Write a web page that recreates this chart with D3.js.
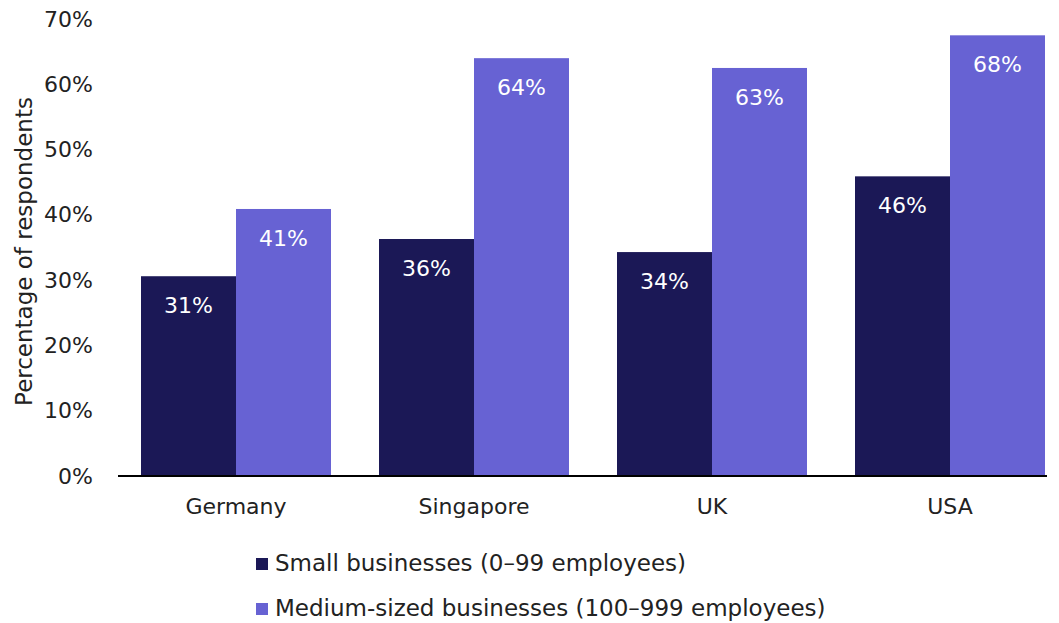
<!doctype html>
<html>
<head>
<script src="https://d3js.org/d3.v7.min.js"></script>
<style>
  body { margin: 0; background: #fff; }
  text { font-family: "DejaVu Sans", sans-serif; }
</style>
</head>
<body>
<script>
// data
var countries = ["Germany", "Singapore", "UK", "USA"];
var seriesNames = ["Small businesses (0\u201399 employees)", "Medium-sized businesses (100\u2013999 employees)"];
var small = [30.6, 36.3, 34.3, 45.9];
var medium = [40.9, 64.0, 62.5, 67.5];
var smallLabels = ["31%", "36%", "34%", "46%"];
var mediumLabels = ["41%", "64%", "63%", "68%"];
var yTicks = [0, 10, 20, 30, 40, 50, 60, 70];
var colors = ["#1b1856", "#6762d3"];

var W = 1059, H = 623;
var margin = {top: 19, right: 12, bottom: 147, left: 118},
    width = W - margin.left - margin.right,
    height = H - margin.top - margin.bottom;
var fontSize = "22px";

var svg = d3.select("body").append("svg")
    .attr("width", W)
    .attr("height", H);

var g = svg.append("g")
    .attr("transform", "translate(" + margin.left + "," + margin.top + ")");

// groups are 190px wide, 238px apart, first one starts 23px from the axis start
var x0 = d3.scaleBand().domain(countries).range([-0.8, 950.8]).paddingInner(0.2017).paddingOuter(0.1);
var x1 = d3.scaleBand().domain([0, 1]).range([0, x0.bandwidth()]);
var y = d3.scaleLinear().domain([0, 70]).range([height, 0]);

// y axis labels (no line)
var yAxis = g.append("g")
    .call(d3.axisLeft(y).tickValues(yTicks).tickSize(0).tickPadding(25).tickFormat(function(d) { return d + "%"; }));
yAxis.select(".domain").remove();
yAxis.selectAll("text").attr("font-size", fontSize).attr("fill", "#222")
    .style("font-family", "'DejaVu Sans', sans-serif");

var rows = countries.map(function(c, i) {
  return {c: c, vals: [small[i], medium[i]], labs: [smallLabels[i], mediumLabels[i]]};
});

var grp = g.selectAll(".grp").data(rows).enter().append("g")
    .attr("transform", function(d) { return "translate(" + x0(d.c) + ",0)"; });

grp.selectAll("rect").data(function(d) { return d.vals; }).enter().append("rect")
    .attr("x", function(d, i) { return x1(i); })
    .attr("width", x1.bandwidth())
    .attr("y", function(d) { return y(d); })
    .attr("height", function(d) { return height - y(d); })
    .attr("fill", function(d, i) { return colors[i]; });

grp.selectAll(".lab").data(function(d) { return d.vals.map(function(v, i) { return {v: v, t: d.labs[i]}; }); })
  .enter().append("text")
    .attr("x", function(d, i) { return x1(i) + x1.bandwidth() / 2; })
    .attr("y", function(d) { return y(d.v) + 37; })
    .attr("text-anchor", "middle")
    .attr("font-size", fontSize)
    .attr("fill", "#fff")
    .text(function(d) { return d.t; });

// x axis: labels from the band scale, baseline drawn across the plot
var xAxis = g.append("g")
    .attr("transform", "translate(0," + height + ")")
    .call(d3.axisBottom(x0).tickSize(0).tickPadding(22));
xAxis.select(".domain").remove();
xAxis.selectAll("text").attr("font-size", fontSize).attr("fill", "#222")
    .style("font-family", "'DejaVu Sans', sans-serif");
g.append("line")
    .attr("x1", 0).attr("x2", width)
    .attr("y1", y(0)).attr("y2", y(0))
    .attr("stroke", "#000").attr("stroke-width", 2);

// y axis title
svg.append("text")
    .attr("transform", "translate(32," + (margin.top + y(35) + 4) + ") rotate(-90)")
    .attr("text-anchor", "middle")
    .attr("font-size", "23px")
    .attr("fill", "#222")
    .text("Percentage of respondents");

// legend
var leg = svg.append("g").attr("transform", "translate(256,558)");
seriesNames.forEach(function(name, i) {
  leg.append("rect").attr("x", 0).attr("y", i * 45).attr("width", 12).attr("height", 12).attr("fill", colors[i]);
  leg.append("text").attr("x", 19).attr("y", i * 45 + 13)
      .attr("font-size", "23px").attr("fill", "#222").text(name);
});
</script>
</body>
</html>
